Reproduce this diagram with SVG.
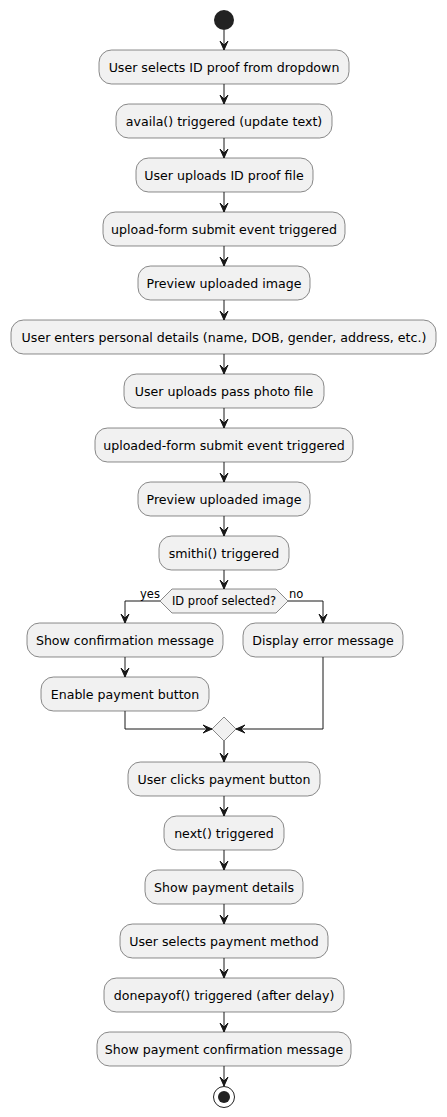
<svg xmlns="http://www.w3.org/2000/svg" width="447" height="1117" viewBox="0 0 447 1117">
<style>
.box{fill:#F1F1F1;stroke:#181818;stroke-width:0.5}
.t{font-family:"DejaVu Sans",sans-serif;font-size:12.6px;fill:#000;text-anchor:middle}
.s{font-family:"DejaVu Sans",sans-serif;font-size:11.5px;fill:#000}
.ln{stroke:#181818;stroke-width:1;fill:none}
.ah{fill:#181818;stroke:#181818;stroke-width:1}
</style>
<defs>
<polygon id="ad" points="-4,-9 0,0 4,-9 0,-5"/>
<polygon id="ar" points="-9,-4 0,0 -9,4 -5,0"/>
<polygon id="al" points="9,-4 0,0 9,4 5,0"/>
</defs>
<rect width="447" height="1117" fill="#FFFFFF"/>
<g id="start"><circle cx="224" cy="20" r="10" fill="#222222"/></g>
<g id="n1"><rect class="box" x="99" y="50" width="250" height="34" rx="12.5"/><text class="t" x="224" y="71.5">User selects ID proof from dropdown</text></g>
<g id="n2"><rect class="box" x="116" y="104" width="216" height="34" rx="12.5"/><text class="t" x="224" y="125.5">availa() triggered (update text)</text></g>
<g id="n3"><rect class="box" x="136" y="158" width="177" height="34" rx="12.5"/><text class="t" x="224" y="179.5">User uploads ID proof file</text></g>
<g id="n4"><rect class="box" x="103" y="212" width="242" height="34" rx="12.5"/><text class="t" x="224" y="233.5">upload-form submit event triggered</text></g>
<g id="n5"><rect class="box" x="138" y="266" width="172" height="34" rx="12.5"/><text class="t" x="224" y="287.5">Preview uploaded image</text></g>
<g id="n6"><rect class="box" x="11" y="320" width="425" height="34" rx="12.5"/><text class="t" x="224" y="341.5">User enters personal details (name, DOB, gender, address, etc.)</text></g>
<g id="n7"><rect class="box" x="124" y="374" width="200" height="34" rx="12.5"/><text class="t" x="224" y="395.5">User uploads pass photo file</text></g>
<g id="n8"><rect class="box" x="95" y="428" width="258" height="34" rx="12.5"/><text class="t" x="224" y="449.5">uploaded-form submit event triggered</text></g>
<g id="n9"><rect class="box" x="138" y="482" width="172" height="34" rx="12.5"/><text class="t" x="224" y="503.5">Preview uploaded image</text></g>
<g id="n10"><rect class="box" x="159" y="536" width="130" height="34" rx="12.5"/><text class="t" x="224" y="557.5">smithi() triggered</text></g>
<g id="dec"><polygon class="box" points="160,601 172,589 276,589 288,601 276,613 172,613"/><text class="s" x="224" y="605" text-anchor="middle">ID proof selected?</text></g>
<g id="n11"><rect class="box" x="27" y="623" width="196" height="34" rx="12.5"/><text class="t" x="125" y="644.5">Show confirmation message</text></g>
<g id="n12"><rect class="box" x="41" y="677" width="168" height="34" rx="12.5"/><text class="t" x="125" y="698.5">Enable payment button</text></g>
<g id="n13"><rect class="box" x="243" y="623" width="160" height="34" rx="12.5"/><text class="t" x="323" y="644.5">Display error message</text></g>
<g id="merge"><polygon class="box" points="224,717 236,729 224,741 212,729"/></g>
<g id="n14"><rect class="box" x="128" y="762" width="192" height="34" rx="12.5"/><text class="t" x="224" y="783.5">User clicks payment button</text></g>
<g id="n15"><rect class="box" x="164" y="816" width="120" height="34" rx="12.5"/><text class="t" x="224" y="837.5">next() triggered</text></g>
<g id="n16"><rect class="box" x="145" y="870" width="158" height="34" rx="12.5"/><text class="t" x="224" y="891.5">Show payment details</text></g>
<g id="n17"><rect class="box" x="120" y="924" width="208" height="34" rx="12.5"/><text class="t" x="224" y="945.5">User selects payment method</text></g>
<g id="n18"><rect class="box" x="104" y="978" width="240" height="34" rx="12.5"/><text class="t" x="224" y="999.5">donepayof() triggered (after delay)</text></g>
<g id="n19"><rect class="box" x="97" y="1032" width="254" height="34" rx="12.5"/><text class="t" x="224" y="1053.5">Show payment confirmation message</text></g>
<g id="end"><circle cx="224" cy="1097" r="10.5" fill="none" stroke="#222222" stroke-width="1"/><circle cx="224" cy="1097" r="6" fill="#222222"/></g>
<g id="connectors">
<path class="ln" d="M224,30V50 M224,84V104 M224,138V158 M224,192V212 M224,246V266 M224,300V320 M224,354V374 M224,408V428 M224,462V482 M224,516V536 M224,570V589"/>
<path class="ln" d="M160,601H125V623 M288,601H323V623 M125,657V677 M125,711V729H212 M323,657V729H236 M224,741V762"/>
<path class="ln" d="M224,796V816 M224,850V870 M224,904V924 M224,958V978 M224,1012V1032 M224,1066V1086"/>
<use href="#ad" class="ah" x="224" y="50"/><use href="#ad" class="ah" x="224" y="104"/><use href="#ad" class="ah" x="224" y="158"/><use href="#ad" class="ah" x="224" y="212"/><use href="#ad" class="ah" x="224" y="266"/><use href="#ad" class="ah" x="224" y="320"/><use href="#ad" class="ah" x="224" y="374"/><use href="#ad" class="ah" x="224" y="428"/><use href="#ad" class="ah" x="224" y="482"/><use href="#ad" class="ah" x="224" y="536"/><use href="#ad" class="ah" x="224" y="589"/>
<use href="#ad" class="ah" x="125" y="623"/><use href="#ad" class="ah" x="323" y="623"/><use href="#ad" class="ah" x="125" y="677"/><use href="#ar" class="ah" x="212" y="729"/><use href="#al" class="ah" x="236" y="729"/><use href="#ad" class="ah" x="224" y="762"/>
<use href="#ad" class="ah" x="224" y="816"/><use href="#ad" class="ah" x="224" y="870"/><use href="#ad" class="ah" x="224" y="924"/><use href="#ad" class="ah" x="224" y="978"/><use href="#ad" class="ah" x="224" y="1032"/><use href="#ad" class="ah" x="224" y="1086"/>
<text class="s" x="140" y="598">yes</text>
<text class="s" x="289" y="598">no</text>
</g>
</svg>
